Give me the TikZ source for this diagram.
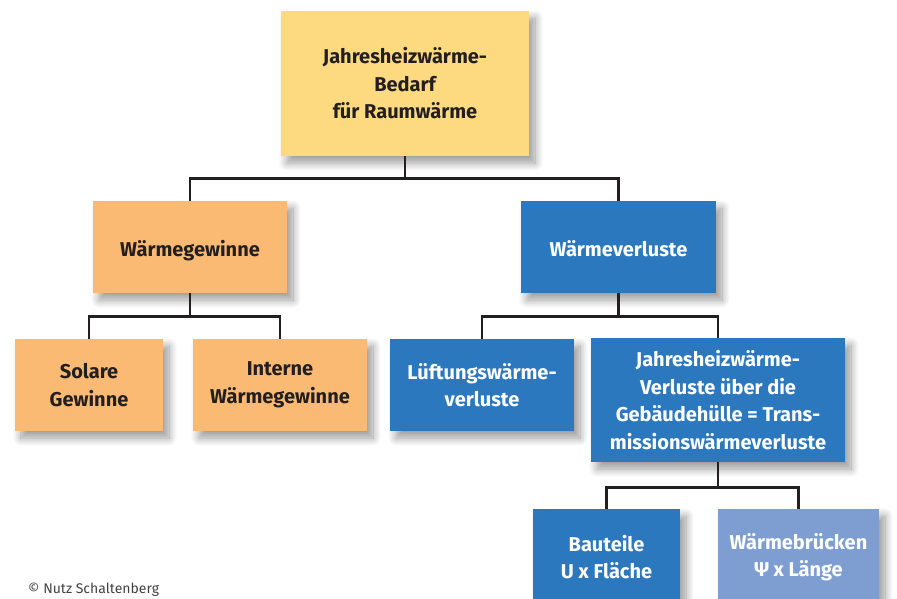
\documentclass[tikz,border=0pt]{standalone}
\usepackage{fontspec}
\setmainfont{Fira Sans}
\usepackage{tikz}
\usetikzlibrary{positioning, calc, shadows.blur}

\definecolor{gelb}{RGB}{253,218,128}
\definecolor{orange}{RGB}{250,186,115}
\definecolor{blau}{RGB}{44,120,191}
\definecolor{hellblau}{RGB}{126,158,210}
\definecolor{schrift}{RGB}{35,31,32}

\tikzset{
  kasten/.style={rectangle, inner sep=0pt, align=center, font=\fontsize{20}{27.5}\selectfont\bfseries,
    blur shadow={shadow xshift=6pt, shadow yshift=-7pt, shadow blur radius=8pt, shadow blur steps=12, shadow opacity=40}},
  einzeilig/.style={text height=18pt, text depth=0pt},
  gewinn/.style={kasten, fill=orange, text=schrift},
  verlust/.style={kasten, fill=blau, text=white},
  linie/.style={draw=schrift, line width=2.8pt}
}

\begin{document}
\begin{tikzpicture}[x=1pt, y=-1pt]
\useasboundingbox (0,0) rectangle (897,598);

% Wurzel
\node[kasten, fill=gelb, text=schrift, minimum width=248pt, minimum height=145pt] (bedarf) at (405,83.5)
  {Jahresheizwärme-\\Bedarf\\für Raumwärme};

% Ebene 1
\node[gewinn, einzeilig, minimum width=194pt, minimum height=92pt] (gewinne) at (190,247) {Wärmegewinne};
\node[verlust, einzeilig, minimum width=195pt, minimum height=92pt] (verluste) at (618.5,247) {Wärmeverluste};

% Ebene 2
\node[gewinn, minimum width=148pt, minimum height=92pt] (solar) at (89,385) {Solare\\Gewinne};
\node[gewinn, minimum width=174pt, minimum height=92pt] (intern) at (280,385) {Interne\\Wärmegewinne};
\node[verlust, minimum width=184pt, minimum height=92pt] (lueftung) at (482,385) {Lüftungswärme-\\verluste};
\node[verlust, minimum width=254pt, minimum height=124pt] (trans) at (718,400)
  {Jahresheizwärme-\\Verluste über die\\Gebäudehülle = Trans-\\missionswärmeverluste};

% Ebene 3
\node[verlust, minimum width=147pt, minimum height=96pt] (bauteile) at (606.5,557) {Bauteile\\U x Fläche};
\node[kasten, fill=hellblau, text=white, minimum width=161pt, minimum height=96pt] (bruecken) at (798.5,557)
  {Wärmebrücken\\Ψ x Länge};

% Verbindungen
\draw[linie] (bedarf.south) -- ++(0,22) -| (gewinne.north);
\draw[linie] (bedarf.south) -- ++(0,22) -| (verluste.north);
\draw[linie] (gewinne.south) -- ++(0,23) -| (solar.north);
\draw[linie] (gewinne.south) -- ++(0,23) -| (intern.north);
\draw[linie] (verluste.south) -- ++(0,23) -| (lueftung.north);
\draw[linie] (verluste.south) -- ++(0,23) -| (trans.north);
\draw[linie] (trans.south) -- ++(0,25) -| (bauteile.north);
\draw[linie] (trans.south) -- ++(0,25) -| (bruecken.north);

% Quelle
\node[anchor=base west, inner sep=0pt, text=schrift!85, font=\fontsize{14}{16}\selectfont] (quelle) at (28,593)
  {© Nutz Schaltenberg};
\end{tikzpicture}
\end{document}
